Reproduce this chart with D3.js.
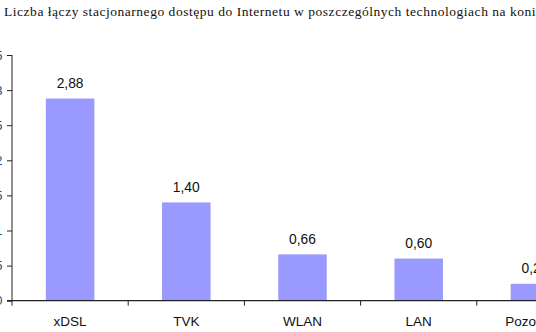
<!DOCTYPE html>
<html>
<head>
<meta charset="utf-8">
<script src="https://cdn.jsdelivr.net/npm/d3@7"></script>
<style>
  html, body { margin: 0; padding: 0; background: #fff; overflow: hidden; }
  svg { display: block; }
</style>
</head>
<body>
<svg id="chart" width="536" height="332"></svg>
<script>
// Fixed-line Internet connections by technology (millions)
const categories = ["xDSL", "TVK", "WLAN", "LAN", "Pozostałe"];
const values = [2.88, 1.40, 0.66, 0.60, 0.24];
const valueLabels = ["2,88", "1,40", "0,66", "0,60", "0,24"];
const yTicks = [0, 0.5, 1, 1.5, 2, 2.5, 3, 3.5];
const yTickLabels = ["0", "0,5", "1", "1,5", "2", "2,5", "3", "3,5"];
const title = "Liczba łączy stacjonarnego dostępu do Internetu w poszczególnych technologiach na koniec 2007 r.";

const svg = d3.select("#chart");
const plotLeft = 12, plotBottom = 300.7, plotTop = 55;
const band = 116.2;

const x = d3.scaleBand()
  .domain(categories)
  .range([plotLeft, plotLeft + band * categories.length])
  .paddingInner(0.5826)
  .paddingOuter(0.2913);

const y = d3.scaleLinear()
  .domain([0, 3.5])
  .range([plotBottom, plotTop]);

// Title
svg.append("text")
  .attr("x", 4).attr("y", 16)
  .attr("font-family", "Liberation Serif, Times New Roman, serif")
  .attr("font-size", 13.5)
  .attr("letter-spacing", 0.53)
  .attr("fill", "#111")
  .text(title);

// Bars
svg.append("g").selectAll("rect")
  .data(values)
  .join("rect")
  .attr("x", (d, i) => x(categories[i]))
  .attr("width", x.bandwidth())
  .attr("y", d => y(d))
  .attr("height", d => plotBottom - y(d))
  .attr("fill", "#9999FF");

// Value labels
svg.append("g").selectAll("text")
  .data(values)
  .join("text")
  .attr("x", (d, i) => x(categories[i]) + x.bandwidth() / 2)
  .attr("y", d => y(d) - 10.5)
  .attr("text-anchor", "middle")
  .attr("font-family", "Liberation Sans, Arial, sans-serif")
  .attr("font-size", 13.8)
  .attr("fill", "#111")
  .text((d, i) => valueLabels[i]);

// Y axis
const yAxis = d3.axisLeft(y)
  .tickValues(yTicks)
  .tickSize(5)
  .tickPadding(4.6)
  .tickFormat((d, i) => yTickLabels[i]);
const gy = svg.append("g")
  .attr("transform", `translate(${plotLeft},0)`)
  .call(yAxis);
gy.select(".domain").attr("stroke", "#222").attr("d", `M0,${plotTop}V${plotBottom}`);
gy.selectAll(".tick line").attr("stroke", "#222");
gy.selectAll(".tick text")
  .attr("font-family", "Liberation Sans, Arial, sans-serif")
  .attr("font-size", 13)
  .attr("fill", "#3a4a6a");

// X axis: ticks mark the boundaries between categories
const boundaries = categories.map(c => x(c) - x.step() * x.paddingOuter());
const gx = svg.append("g").attr("transform", `translate(0,${plotBottom})`);
gx.append("line")
  .attr("x1", plotLeft - 5).attr("x2", 536)
  .attr("stroke", "#222").attr("stroke-width", 1.2);
gx.selectAll("line.sep")
  .data(boundaries)
  .join("line")
  .attr("class", "sep")
  .attr("x1", d => d).attr("x2", d => d)
  .attr("y1", 0).attr("y2", 5)
  .attr("stroke", "#222");
gx.selectAll("text")
  .data(categories)
  .join("text")
  .attr("x", d => x(d) + x.bandwidth() / 2)
  .attr("y", 25.5)
  .attr("text-anchor", "middle")
  .attr("font-family", "Liberation Sans, Arial, sans-serif")
  .attr("font-size", 13.5)
  .attr("fill", "#111")
  .text(d => d);
</script>
</body>
</html>
